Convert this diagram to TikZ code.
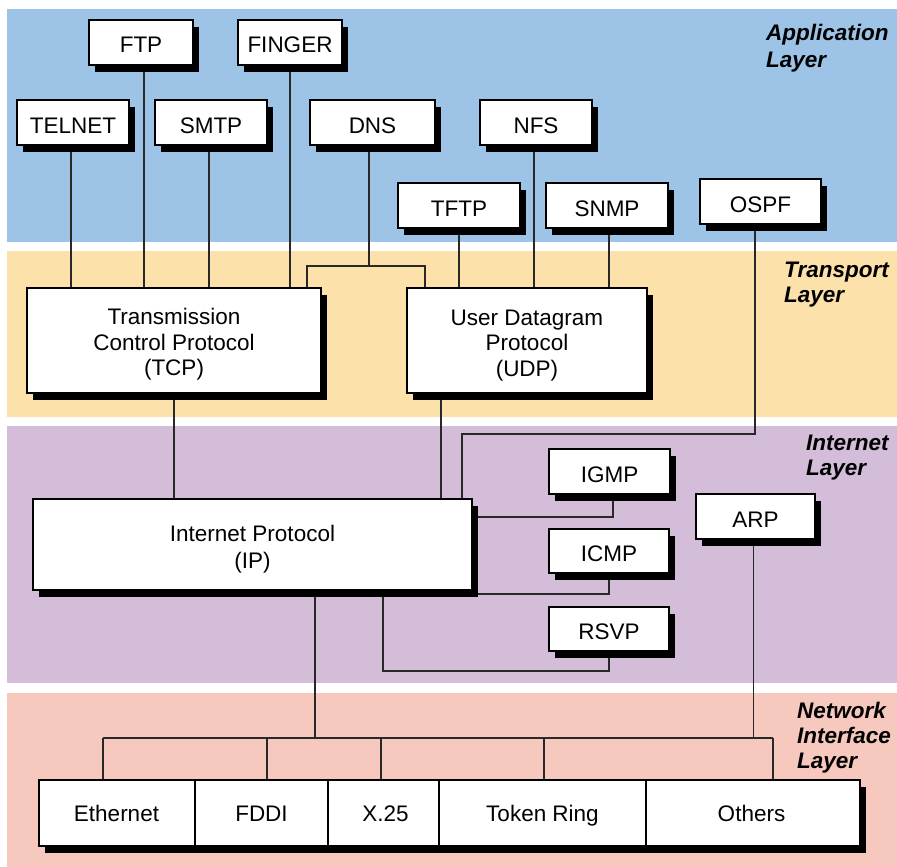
\documentclass[tikz,border=0pt]{standalone}
\usepackage{fontspec}
\setmainfont{Liberation Sans}
\usetikzlibrary{shadows,calc}
\definecolor{appc}{RGB}{157,196,231}
\definecolor{trac}{RGB}{252,225,170}
\definecolor{intc}{RGB}{211,189,216}
\definecolor{netc}{RGB}{246,200,190}
\definecolor{linec}{RGB}{40,40,40}
\pgfdeclarelayer{bands}
\pgfdeclarelayer{lines}
\pgfsetlayers{bands,lines,main}
\begin{document}
\begin{tikzpicture}[x=1pt,y=-1pt,
  pbox/.style={draw=black, line width=2pt, fill=white, inner sep=0pt, align=center,
    font=\fontsize{22.5}{25.5}\selectfont,
    drop shadow={shadow xshift=6pt, shadow yshift=-7pt, fill=black, opacity=1}},
  pb/.style 2 args={pbox, minimum width=#1pt, minimum height=#2pt, text height=21pt, text depth=0pt},
  pbm/.style 2 args={pbox, minimum width=#1pt, minimum height=#2pt},
  lay/.style={font=\fontsize{22.5}{26}\selectfont\bfseries\itshape, inner sep=0pt, anchor=base west},
  conn/.style={draw=linec, line width=1.3pt},
  cell/.style={inner sep=0pt, minimum height=66pt, text height=16pt, text depth=0pt,
    font=\fontsize{22.5}{25.5}\selectfont},
  divider/.style={draw=black, line width=1.3pt}
]
\useasboundingbox (0,0) rectangle (897,867);

% nodes
\path
  (141,42.5)  node[pb={104}{45}] (ftp) {FTP}
  (290,42.5)  node[pb={104}{45}] (finger) {FINGER}
  (73,122.5)  node[pb={112}{45}] (telnet) {TELNET}
  (211,122.5) node[pb={112}{45}] (smtp) {SMTP}
  (372.5,122.5) node[pb={125}{45}] (dns) {DNS}
  (536,122.5) node[pb={112}{45}] (nfs) {NFS}
  (459,205.5) node[pb={122}{45}] (tftp) {TFTP}
  (607,205.5) node[pb={122}{45}] (snmp) {SNMP}
  (760.5,201.5) node[pb={121}{45}] (ospf) {OSPF}
  (174,340.5) node[pbm={294}{105}] (tcp) {\rule{0pt}{24.5pt}Transmission\\Control Protocol\\(TCP)}
  (527,340.5) node[pbm={240}{105}] (udp) {\rule{0pt}{25.5pt}User Datagram\\Protocol\\(UDP)}
  (252.5,544.5) node[pbm={439}{91}] (ip) {\rule{0pt}{26.5pt}Internet Protocol\\[1.5pt](IP)}
  (609.5,471.5) node[pb={121}{45}] (igmp) {IGMP}
  (755.5,516.5) node[pb={119}{45}] (arp) {ARP}
  (609,551)   node[pb={120}{44}] (icmp) {ICMP}
  (609,629)   node[pb={120}{44}] (rsvp) {RSVP};

% network interface row
\node[pbm={821}{66}] (netif) at (449.5,813) {};
\path
  (116.5,813) node[cell, minimum width=157pt] (eth) {Ethernet}
  (261.5,813) node[cell, minimum width=133pt] (fddi) {FDDI}
  (385.5,813) node[cell, minimum width=111pt] (x25) {X.25}
  (542.5,813) node[cell, minimum width=207pt] (tr) {Token Ring}
  (751.5,813) node[cell, minimum width=215pt] (oth) {Others};
\draw[divider] (195,779) -- (195,847);
\draw[divider] (328,779) -- (328,847);
\draw[divider] (439,779) -- (439,847);
\draw[divider] (646,779) -- (646,847);

% layer labels
\node[lay] (al1) at (766,41) {Application};
\node[lay] (al2) at (766,67) {Layer};
\node[lay] (tl1) at (784,277) {Transport};
\node[lay] (tl2) at (784,302) {Layer};
\node[lay] (il1) at (806,450) {Internet};
\node[lay] (il2) at (806,475) {Layer};
\node[lay] (nl1) at (797,718) {Network};
\node[lay] (nl2) at (797,743) {Interface};
\node[lay] (nl3) at (797,768) {Layer};

\begin{pgfonlayer}{bands}
\fill[appc] (7,9) rectangle (897,242);
\fill[trac] (7,251) rectangle (897,417);
\fill[intc] (7,426) rectangle (897,683);
\fill[netc] (7,693) rectangle (897,867);
\end{pgfonlayer}

\begin{pgfonlayer}{lines}
% application -> transport
\draw[conn] ([xshift=-2pt]telnet.south) coordinate (t1) -- (t1 |- tcp.north);
\draw[conn] ([xshift=3pt]ftp.south) coordinate (f1) -- (f1 |- tcp.north);
\draw[conn] ([xshift=-2pt]smtp.south) coordinate (s1) -- (s1 |- tcp.north);
\draw[conn] (finger.south) -- (finger.south |- tcp.north);
\coordinate (d0) at (369,266);
\coordinate (dL) at (307,266);
\coordinate (dR) at (425,266);
\draw[conn] (d0 |- dns.south) -- (d0);
\draw[conn] (dL |- tcp.north) -- (dL) -- (dR) -- (dR |- udp.north);
\draw[conn] (tftp.south) -- (tftp.south |- udp.north);
\draw[conn] ([xshift=-2pt]nfs.south) coordinate (n1) -- (n1 |- udp.north);
\draw[conn] ([xshift=2pt]snmp.south) coordinate (sn1) -- (sn1 |- udp.north);
% transport -> internet
\draw[conn] (tcp.south) -- (tcp.south |- ip.north);
\draw[conn] ([xshift=-86pt]udp.south) coordinate (u1) -- (u1 |- ip.north);
\coordinate (o1) at (462,434);
\draw[conn] ([xshift=-5.5pt]ospf.south) |- (o1) -- (o1 |- ip.north);
% internet helpers
\draw[conn] ([xshift=3.5pt]igmp.south) |- ([yshift=27.5pt]ip.east);
\draw[conn] (icmp.south) |- ([yshift=-49.5pt]ip.east);
\coordinate (r1) at (383,671);
\draw[conn] (rsvp.south) |- (r1) -- (r1 |- ip.south);
% bus
\coordinate (b1) at (103,738);
\coordinate (b2) at (267,738);
\coordinate (b3) at (381,738);
\coordinate (b4) at (544,738);
\coordinate (b5) at (773,738);
\coordinate (bip) at (315,738);
\draw[conn] (b1) -- (b5);
\draw[conn] (b1) -- (b1 |- eth.north);
\draw[conn] (b2) -- (b2 |- fddi.north);
\draw[conn] (b3) -- (b3 |- x25.north);
\draw[conn] (b4) -- (b4 |- tr.north);
\draw[conn] (b5) -- (b5 |- oth.north);
\draw[conn] (ip.south -| bip) -- (bip);
\draw[conn] ([xshift=-2pt]arp.south) coordinate (a1) -- (a1 |- b1);
\end{pgfonlayer}
\end{tikzpicture}
\end{document}
